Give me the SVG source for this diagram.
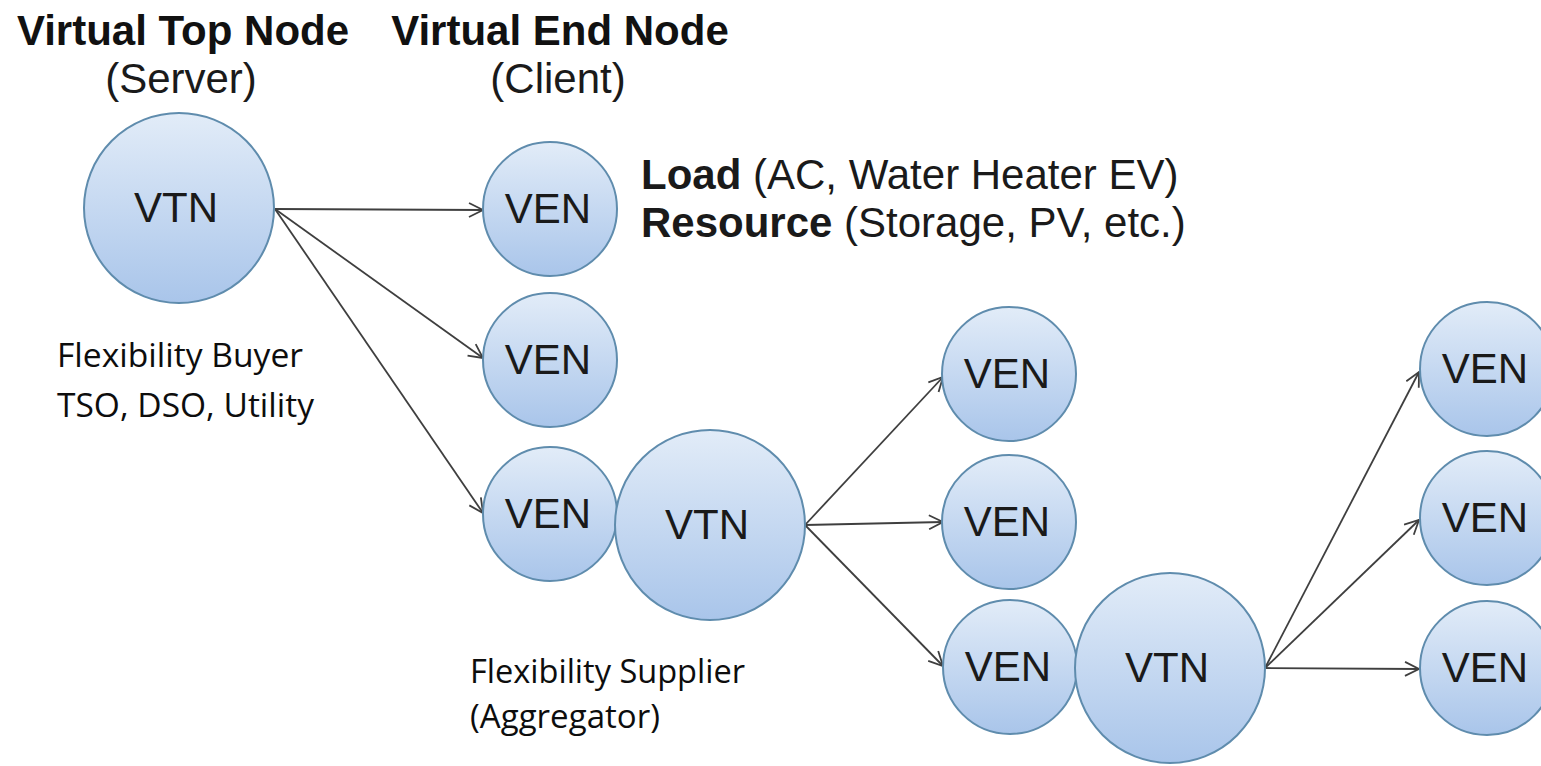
<svg xmlns="http://www.w3.org/2000/svg" width="1541" height="766" viewBox="0 0 1541 766">
<defs>
<linearGradient id="g" x1="0" y1="0" x2="0" y2="1">
<stop offset="0" stop-color="#e2ecf8"/>
<stop offset="1" stop-color="#a9c5ea"/>
</linearGradient>
<marker id="arr" markerUnits="userSpaceOnUse" markerWidth="18" markerHeight="18" refX="15" refY="8" orient="auto">
<path d="M1,1 L15,8 L1,15" fill="none" stroke="#3f3f3f" stroke-width="1.8"/>
</marker>
</defs>
<style>
.node{fill:url(#g);stroke:#5f8cad;stroke-width:2}
.lbl{font-family:"Liberation Sans",Arial,sans-serif;font-size:42px;fill:#1a1a1a;text-anchor:middle}
.hd{font-family:"Liberation Sans",Arial,sans-serif;font-size:42px;fill:#111;font-weight:bold;text-anchor:middle}
.sub{font-family:"Liberation Sans",Arial,sans-serif;font-size:42px;fill:#1a1a1a;text-anchor:middle}
.desc{font-family:"Liberation Sans",Arial,sans-serif;font-size:42px;fill:#1a1a1a}
.role{font-family:"Open Sans","Noto Sans",sans-serif;font-size:33px;fill:#0d0d0d}
.edge{stroke:#3f3f3f;stroke-width:1.8;fill:none;marker-end:url(#arr)}
</style>
<rect width="1541" height="766" fill="#ffffff"/>

<g id="headings">
<text class="hd" x="183" y="45">Virtual Top Node</text>
<text class="hd" x="560" y="45">Virtual End Node</text>
<text class="sub" x="181" y="93">(Server)</text>
<text class="sub" x="558" y="93">(Client)</text>
<text class="desc" x="641" y="189"><tspan font-weight="bold">Load</tspan> (AC, Water Heater EV)</text>
<text class="desc" x="641" y="237"><tspan font-weight="bold">Resource</tspan> (Storage, PV, etc.)</text>
<text class="role" x="57" y="367" textLength="246" lengthAdjust="spacingAndGlyphs">Flexibility Buyer</text>
<text class="role" x="57" y="417" textLength="257" lengthAdjust="spacingAndGlyphs">TSO, DSO, Utility</text>
<text class="role" x="470" y="683" textLength="275" lengthAdjust="spacingAndGlyphs">Flexibility Supplier</text>
<text class="role" x="470" y="728" textLength="190" lengthAdjust="spacingAndGlyphs">(Aggregator)</text>
</g>

<g id="connectors">
<line class="edge" x1="275" y1="209" x2="483" y2="210"/>
<line class="edge" x1="275" y1="209" x2="483" y2="358"/>
<line class="edge" x1="275" y1="209" x2="483" y2="513"/>
<line class="edge" x1="805" y1="525" x2="943" y2="377"/>
<line class="edge" x1="805" y1="525" x2="943" y2="522"/>
<line class="edge" x1="805" y1="525" x2="943" y2="666"/>
<line class="edge" x1="1265" y1="668" x2="1419" y2="372"/>
<line class="edge" x1="1265" y1="668" x2="1419" y2="520"/>
<line class="edge" x1="1265" y1="668" x2="1419" y2="669"/>
</g>

<g id="vtn1"><circle class="node" cx="179" cy="208" r="95"/><text class="lbl" x="176" y="222">VTN</text></g>
<g id="ven1"><circle class="node" cx="550" cy="209" r="67"/><text class="lbl" x="548" y="223">VEN</text></g>
<g id="ven2"><circle class="node" cx="550" cy="360" r="67"/><text class="lbl" x="548" y="374">VEN</text></g>
<g id="ven3"><circle class="node" cx="550" cy="514" r="67"/><text class="lbl" x="548" y="528">VEN</text></g>
<g id="vtn2"><circle class="node" cx="710" cy="525" r="95"/><text class="lbl" x="707" y="539">VTN</text></g>
<g id="ven4"><circle class="node" cx="1009" cy="374" r="67"/><text class="lbl" x="1007" y="388">VEN</text></g>
<g id="ven5"><circle class="node" cx="1009" cy="522" r="67"/><text class="lbl" x="1007" y="536">VEN</text></g>
<g id="ven6"><circle class="node" cx="1010" cy="667" r="67"/><text class="lbl" x="1008" y="681">VEN</text></g>
<g id="vtn3"><circle class="node" cx="1170" cy="668" r="95"/><text class="lbl" x="1167" y="682">VTN</text></g>
<g id="ven7"><circle class="node" cx="1487" cy="369" r="67"/><text class="lbl" x="1485" y="383">VEN</text></g>
<g id="ven8"><circle class="node" cx="1487" cy="518" r="67"/><text class="lbl" x="1485" y="532">VEN</text></g>
<g id="ven9"><circle class="node" cx="1487" cy="668" r="67"/><text class="lbl" x="1485" y="682">VEN</text></g>
</svg>
